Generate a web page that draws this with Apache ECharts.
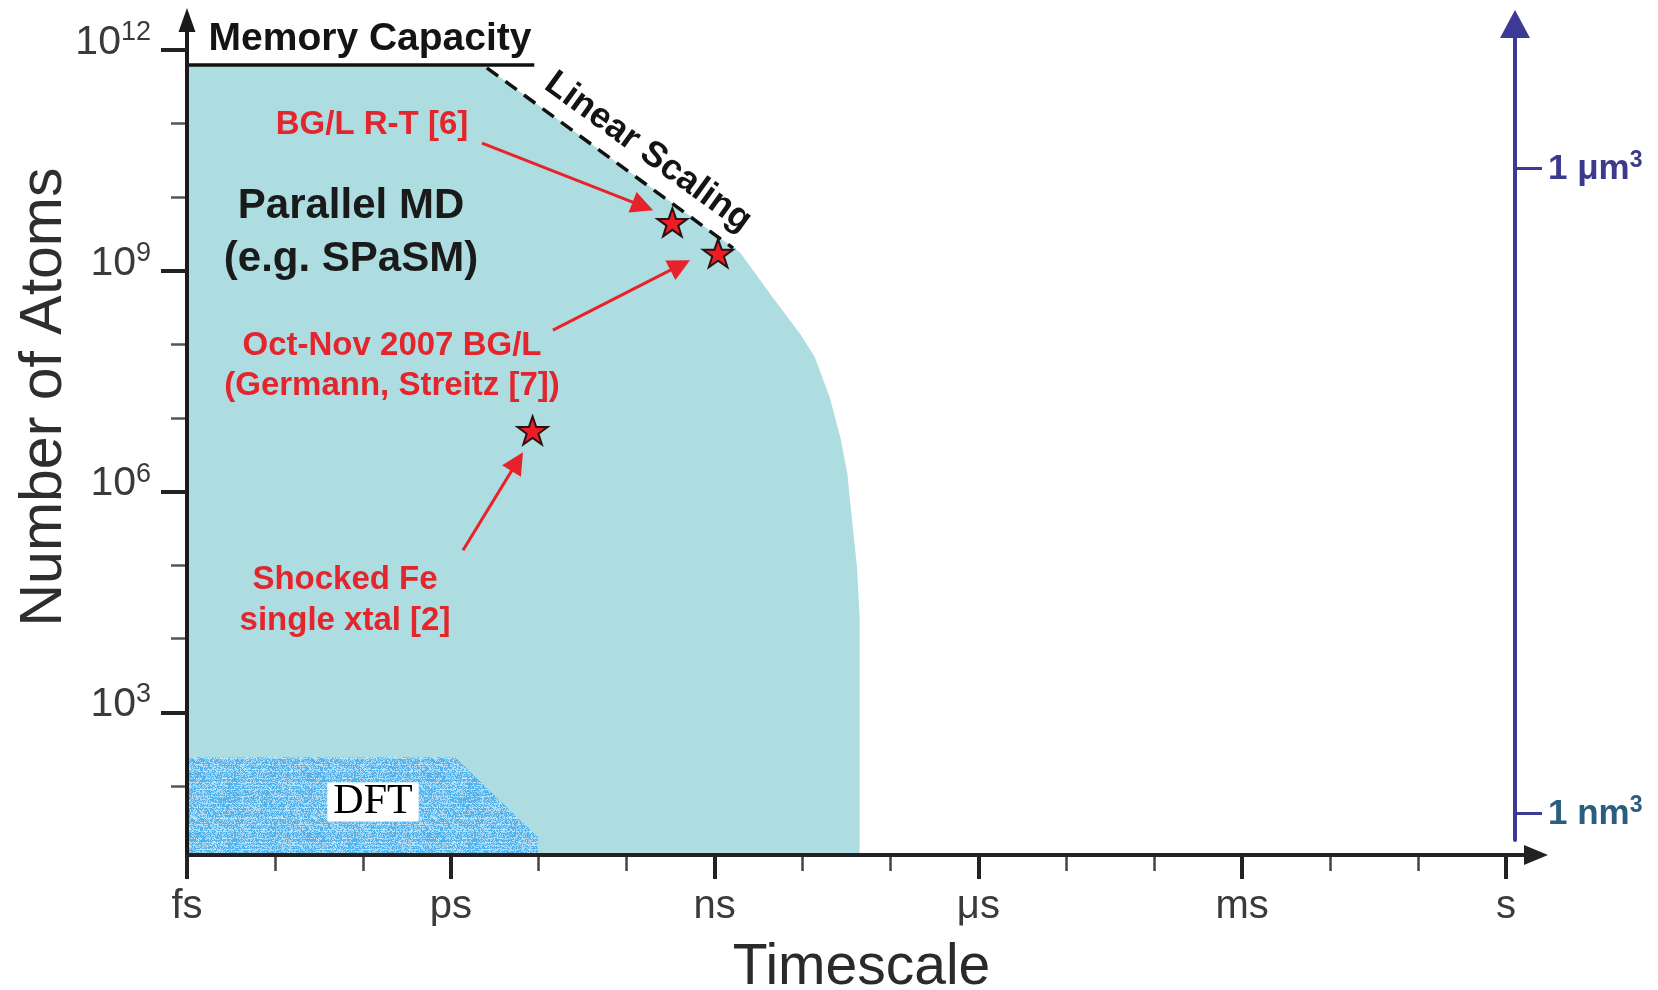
<!DOCTYPE html>
<html><head><meta charset="utf-8">
<script src="https://cdn.jsdelivr.net/npm/echarts@6/dist/echarts.min.js"></script>
<style>html,body{margin:0;padding:0;background:#fff}#c{width:1658px;height:990px}</style>
</head><body><div id="c"></div>
<script>
// ---- axis ticks (log10 of seconds / atoms / nm^3) ----
const xTickValues = [-15, -12, -9, -6, -3, 0];
const xTickLabels = ['fs', 'ps', 'ns', 'μs', 'ms', 's'];
const xMinorValues = [-14, -13, -11, -10, -8, -7, -5, -4, -2, -1];
const yTickValues = [3, 6, 9, 12];
const yMinorValues = [2, 4, 5, 7, 8, 10, 11];
const volTickValues = [0, 9];
const volTickLabels = ['1 nm', '1 μm'];

// ---- Parallel MD reachable region (log10 s, log10 atoms) ----
const mdLogTime  = [-15, -11.61, -8.71, -8.34, -8.03, -7.86, -7.69, -7.57, -7.49, -7.46, -7.38, -7.35, -7.35];
const mdLogAtoms = [11.78, 11.78, 9.25, 8.64, 8.15, 7.83, 7.28, 6.74, 6.25, 5.88, 4.97, 4.29, 1];

// ---- DFT region ----
const dftLogTime  = [-15, -11.95, -11.01, -11.01];
const dftLogAtoms = [2.39, 2.39, 1.30, 1];

// ---- Memory capacity and linear scaling limits ----
const memoryLogTime  = [-15, -11.05];
const memoryLogAtoms = [11.8, 11.8];
const linearLogTime  = [-11.59, -8.79];
const linearLogAtoms = [11.76, 9.31];

// ---- record simulations (stars) ----
const recordNames    = ['BG/L R-T [6]', 'Oct-Nov 2007 BG/L (Germann, Streitz [7])', 'Shocked Fe single xtal [2]'];
const recordLogTime  = [-9.48, -8.96, -11.07];
const recordLogAtoms = [9.66, 9.24, 6.83];

// ---- annotation pointers (log10 s, log10 atoms) ----
const pointerFromTime  = [-11.645, -10.838, -11.861];
const pointerFromAtoms = [10.736, 8.194, 5.203];
const pointerToTime    = [-9.816, -9.391, -11.244];
const pointerToAtoms   = [9.879, 9.077, 6.407];

const SANS = '"Liberation Sans", Arial, Helvetica, sans-serif';
const zip = (a, b) => a.map((v, i) => [v, b[i]]);

function dftPattern() {
  const c = document.createElement('canvas');
  c.width = 120; c.height = 60;
  const g = c.getContext('2d');
  g.fillStyle = '#52b3ec';
  g.fillRect(0, 0, 120, 60);
  for (let y = 0; y < 60; y++) {
    for (let x = 0; x < 120; x++) {
      const h = Math.abs(Math.sin(x * 12.9898 + y * 78.233) * 43758.5453) % 1;
      const streak = (y % 7 === 2 || y % 11 === 5) ? 0.3 : 0;
      if (h < 0.42 + streak) {
        g.fillStyle = 'rgba(255,255,255,' + (0.35 + 0.6 * h).toFixed(2) + ')';
        g.fillRect(x, y, 1, 1);
      }
    }
  }
  return c;
}

const STAR = 'path://M50,2 L61.8,36 L98,36 L68.8,57.5 L79.8,92 L50,71 L20.2,92 L31.2,57.5 L2,36 L38.2,36 Z';

const chart = echarts.init(document.getElementById('c'), null, {renderer: 'canvas'});

const option = {
  backgroundColor: '#ffffff',
  animation: false,
  textStyle: {fontFamily: SANS},
  grid: [
    {left: 187, top: 20, width: 1349, height: 835, containLabel: false, outerBoundsMode: 'none'},
    {left: 1515, top: 24, width: 10, height: 816, containLabel: false, outerBoundsMode: 'none'}
  ],
  xAxis: [
    {
      type: 'value', gridIndex: 0, position: 'bottom', min: -15, max: 0.342, z: 10,
      name: 'Timescale', nameLocation: 'middle', nameGap: 85,
      nameTextStyle: {fontSize: 57, color: '#2a2a2a', fontFamily: SANS},
      axisLine: {onZero: false, lineStyle: {color: '#222', width: 4}, symbol: ['none', 'triangle'], symbolSize: [20, 24]},
      axisTick: {customValues: xTickValues, length: 24, lineStyle: {color: '#222', width: 4}},
      axisLabel: {customValues: xTickValues, margin: 32, fontSize: 40, color: '#3a3a3a', fontFamily: SANS,
        formatter: v => xTickLabels[xTickValues.indexOf(Math.round(v))] || ''},
      splitLine: {show: false}
    },
    {
      type: 'value', gridIndex: 0, position: 'bottom', min: -15, max: 0.342, z: 9,
      axisLine: {show: false, onZero: false},
      axisTick: {customValues: xMinorValues, length: 16, lineStyle: {color: '#444', width: 2.5}},
      axisLabel: {show: false},
      splitLine: {show: false}
    },
    {type: 'value', gridIndex: 1, show: false, min: 0, max: 1}
  ],
  yAxis: [
    {
      type: 'value', gridIndex: 0, position: 'left', min: 1.06, max: 12.41, z: 10,
      axisLine: {onZero: false, lineStyle: {color: '#1a1a1a', width: 4}, symbol: ['none', 'triangle'], symbolSize: [17, 24]},
      axisTick: {customValues: yTickValues, length: 26, lineStyle: {color: '#222', width: 4}},
      axisLabel: {customValues: yTickValues, margin: 36, color: '#3a3a3a', padding: [0, 0, 18, 0],
        formatter: v => '{b|10}{s|' + Math.round(v) + '}',
        rich: {
          b: {fontSize: 41, fontFamily: SANS, color: '#3a3a3a', verticalAlign: 'bottom', lineHeight: 44},
          s: {fontSize: 27, fontFamily: SANS, color: '#3a3a3a', verticalAlign: 'top', lineHeight: 27}
        }},
      splitLine: {show: false}
    },
    {
      type: 'value', gridIndex: 0, position: 'left', min: 1.06, max: 12.41, z: 9,
      axisLine: {show: false, onZero: false},
      axisTick: {customValues: yMinorValues, length: 16, lineStyle: {color: '#555', width: 2.5}},
      axisLabel: {show: false},
      splitLine: {show: false}
    },
    {
      type: 'value', gridIndex: 1, position: 'left', min: -0.377, max: 11.009, z: 10,
      axisLine: {onZero: false, lineStyle: {color: '#3d3a96', width: 4}, symbol: ['none', 'triangle'], symbolSize: [30, 28]},
      axisTick: {inside: true, customValues: volTickValues, length: 27, lineStyle: {color: '#3d3a96', width: 3}},
      axisLabel: {inside: true, customValues: volTickValues, margin: 33,
        formatter: v => {
          const i = volTickValues.indexOf(Math.round(v));
          return i === 0 ? '{n|' + volTickLabels[i] + '}{ns|3}' : '{u|' + volTickLabels[i] + '}{us|3}';
        },
        rich: {
          u: {fontSize: 35, fontWeight: 'bold', fontFamily: SANS, color: '#3b3a8c', verticalAlign: 'bottom', lineHeight: 38},
          us: {fontSize: 23, fontWeight: 'bold', fontFamily: SANS, color: '#3b3a8c', verticalAlign: 'top', lineHeight: 23},
          n: {fontSize: 35, fontWeight: 'bold', fontFamily: SANS, color: '#2b5d7c', verticalAlign: 'bottom', lineHeight: 38},
          ns: {fontSize: 23, fontWeight: 'bold', fontFamily: SANS, color: '#2b5d7c', verticalAlign: 'top', lineHeight: 23}
        }},
      splitLine: {show: false}
    }
  ],
  series: [
    {
      name: 'Parallel MD', type: 'line', xAxisIndex: 0, yAxisIndex: 0, z: 1, silent: true,
      data: zip(mdLogTime, mdLogAtoms), symbol: 'none', smooth: false,
      lineStyle: {width: 0}, areaStyle: {color: '#addde0', opacity: 1, origin: 'start'}
    },
    {
      name: 'DFT', type: 'line', xAxisIndex: 0, yAxisIndex: 0, z: 2, silent: true,
      data: zip(dftLogTime, dftLogAtoms), symbol: 'none',
      lineStyle: {width: 0}, areaStyle: {color: {image: dftPattern(), repeat: 'repeat'}, opacity: 1, origin: 'start'}
    },
    {
      name: 'Memory Capacity', type: 'line', xAxisIndex: 0, yAxisIndex: 0, z: 3, silent: true,
      data: zip(memoryLogTime, memoryLogAtoms), symbol: 'none',
      lineStyle: {color: '#111', width: 3.5}
    },
    {
      name: 'Linear Scaling', type: 'line', xAxisIndex: 0, yAxisIndex: 0, z: 3, silent: true,
      data: zip(linearLogTime, linearLogAtoms), symbol: 'none',
      lineStyle: {color: '#111', width: 3.5, type: [14, 9]}
    },
    {
      name: 'pointers', type: 'lines', coordinateSystem: 'cartesian2d', xAxisIndex: 0, yAxisIndex: 0, z: 5, silent: true,
      data: pointerFromTime.map((t, i) => ({coords: [[t, pointerFromAtoms[i]], [pointerToTime[i], pointerToAtoms[i]]]})),
      lineStyle: {color: '#e8222b', width: 3, opacity: 1, curveness: 0},
      symbol: ['none', 'triangle'], symbolSize: [20, 22]
    },
    {
      name: 'records', type: 'scatter', xAxisIndex: 0, yAxisIndex: 0, z: 6, silent: true,
      data: recordLogTime.map((t, i) => ({name: recordNames[i], value: [t, recordLogAtoms[i]]})),
      symbol: STAR, symbolSize: 30, symbolKeepAspect: true,
      itemStyle: {color: '#ee1c24', borderColor: '#2a1212', borderWidth: 2, opacity: 1}
    }
  ],
  graphic: [
    {type: 'text', x: 45, y: 397, rotation: Math.PI / 2, z: 20,
      style: {text: 'Number of Atoms', fontSize: 59, fontFamily: SANS, fill: '#2e2e2e',
        align: 'center', verticalAlign: 'middle', textAlign: 'center', textVerticalAlign: 'middle'}},
    {type: 'text', x: 370, y: 39, z: 20,
      style: {text: 'Memory Capacity', fontSize: 39, fontWeight: 'bold', fontFamily: SANS, fill: '#141414',
        align: 'center', verticalAlign: 'middle', textAlign: 'center', textVerticalAlign: 'middle'}},
    {type: 'text', x: 648, y: 152, rotation: -36 * Math.PI / 180, z: 20,
      style: {text: 'Linear Scaling', fontSize: 36, fontWeight: 'bold', fontFamily: SANS, fill: '#141414',
        align: 'center', verticalAlign: 'middle', textAlign: 'center', textVerticalAlign: 'middle'}},
    {type: 'text', x: 351, y: 233, z: 20,
      style: {text: 'Parallel MD\n(e.g. SPaSM)', fontSize: 42, lineHeight: 53, fontWeight: 'bold', fontFamily: SANS, fill: '#1a1a1a',
        align: 'center', verticalAlign: 'middle', textAlign: 'center', textVerticalAlign: 'middle'}},
    {type: 'text', x: 372, y: 125, z: 20,
      style: {text: 'BG/L R-T [6]', fontSize: 33, fontWeight: 'bold', fontFamily: SANS, fill: '#e3262d',
        align: 'center', verticalAlign: 'middle', textAlign: 'center', textVerticalAlign: 'middle'}},
    {type: 'text', x: 392, y: 366, z: 20,
      style: {text: 'Oct-Nov 2007 BG/L\n(Germann, Streitz [7])', fontSize: 33, lineHeight: 40, fontWeight: 'bold', fontFamily: SANS, fill: '#e3262d',
        align: 'center', verticalAlign: 'middle', textAlign: 'center', textVerticalAlign: 'middle'}},
    {type: 'text', x: 345, y: 600, z: 20,
      style: {text: 'Shocked Fe\nsingle xtal [2]', fontSize: 33, lineHeight: 41, fontWeight: 'bold', fontFamily: SANS, fill: '#e3262d',
        align: 'center', verticalAlign: 'middle', textAlign: 'center', textVerticalAlign: 'middle'}},
    {type: 'text', x: 373, y: 802, z: 20,
      style: {text: 'DFT', fontSize: 42, fontFamily: '"Liberation Serif", "DejaVu Serif", serif', fill: '#000',
        backgroundColor: '#ffffff', padding: [1, 6, 0, 6], lineHeight: 38,
        align: 'center', verticalAlign: 'middle', textAlign: 'center', textVerticalAlign: 'middle'}}
  ]
};
chart.setOption(option);
</script></body></html>
